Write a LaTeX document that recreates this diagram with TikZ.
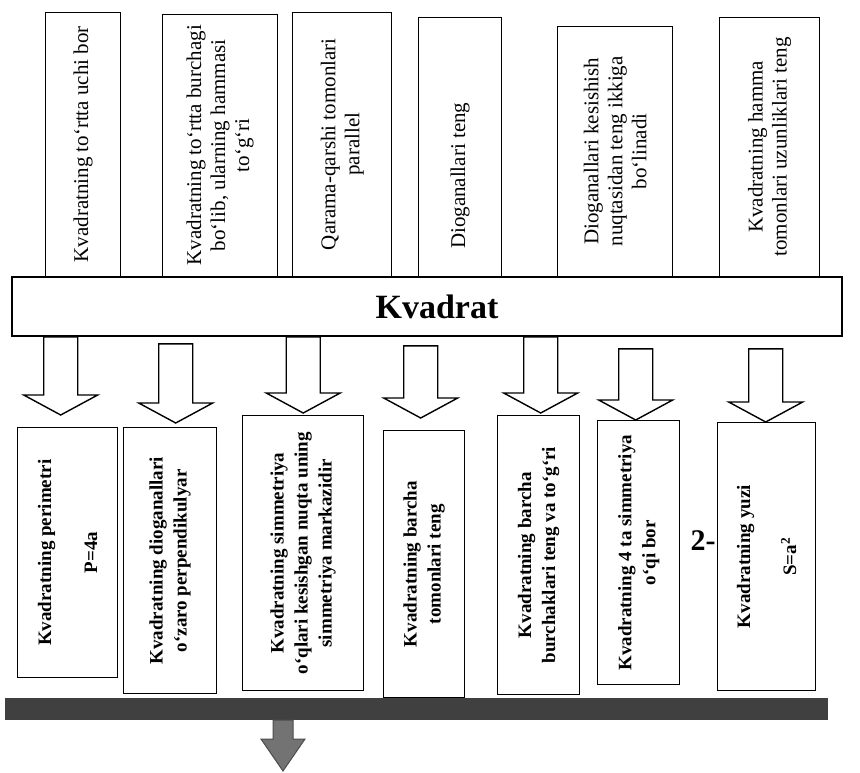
\documentclass[tikz,border=0pt]{standalone}
\usepackage{fontspec}
\setmainfont{Liberation Serif}
\usetikzlibrary{calc}
\tikzstyle{topbox}=[rectangle,
                    draw=black,
                    line width=1.4pt,
                    fill=white,
                    rotate=90,
                    anchor=north west,
                    align=center,
                    inner sep=2pt,
                    font=\fontsize{21}{24}\selectfont]
\tikzstyle{botbox}=[rectangle,
                    draw=black,
                    line width=1.4pt,
                    fill=white,
                    rotate=90,
                    anchor=north east,
                    align=center,
                    inner sep=2pt,
                    font=\bfseries\fontsize{19}{24}\selectfont]
\tikzstyle{hollowarrow}=[draw=black, line width=1.4pt, fill=white, line join=miter]
% block arrow from the bar down to a box: box, x shift, gap, drop
\newcommand{\kvarrow}[4]{%
  \draw[hollowarrow] let \p1=([xshift=#2]#1.east), \p2=(kv.south) in
    (\x1-17pt,\y2-#4) -- (\x1+17pt,\y2-#4) -- (\x1+17pt,\y1+#3+20pt)
    -- (\x1+37pt,\y1+#3+20pt) -- (\x1,\y1+#3) -- (\x1-37pt,\y1+#3+20pt)
    -- (\x1-17pt,\y1+#3+20pt) -- cycle;}
\begin{document}
\begin{tikzpicture}[x=1pt,y=-1pt]
    \path[use as bounding box, fill=white] (0,0) rectangle (860,772);

    % properties on top
    \node[topbox, minimum width=264pt, minimum height=75pt] (t1) at (45,277) {Kvadratning to‘rtta uchi bor};
    \node[topbox, minimum width=262pt, minimum height=115pt] (t2) at (162,277) {Kvadratning to‘rtta burchagi\\ bo‘lib, ularning hammasi\\ to‘g‘ri};
    \node[topbox, minimum width=264pt, minimum height=99pt] (t3) at (292,277) {Qarama-qarshi tomonlari\\ parallel};
    \node[topbox, minimum width=259pt, minimum height=83pt] (t4) at (418,277) {Dioganallari teng\hspace*{58pt}};
    \node[topbox, minimum width=250pt, minimum height=115pt] (t5) at (557,277) {Dioganallari kesishish\\ nuqtasidan teng ikkiga\\ bo‘linadi};
    \node[topbox, minimum width=259pt, minimum height=100pt] (t6) at (719,277) {Kvadratning hamma\\ tomonlari uzunliklari teng};

    \node[draw=black, line width=1.6pt, fill=white, minimum width=830pt, minimum height=59pt,
          font=\bfseries\fontsize{34}{40}\selectfont] (kv) at (427,306.5) {\hspace{20pt}Kvadrat};

    % properties below
    \node[botbox, minimum width=250pt, minimum height=100pt] (b1) at (17,427) {Kvadratning perimetri\\[22pt] P=4a};
    \node[botbox, minimum width=266pt, minimum height=93pt] (b2) at (123,427) {Kvadratning dioganallari\\ o‘zaro perpendikulyar};
    \node[botbox, minimum width=275pt, minimum height=121pt] (b3) at (242,415) {Kvadratning simmetriya\\ o‘qlari kesishgan nuqta uning\\ simmetriya markazidir};
    \node[botbox, minimum width=267pt, minimum height=81pt] (b4) at (383,430) {Kvadratning barcha\\ tomonlari teng};
    \node[botbox, minimum width=279pt, minimum height=82pt] (b5) at (497,415) {Kvadratning barcha\\ burchaklari teng va to‘g‘ri};
    \node[botbox, minimum width=264pt, minimum height=82pt] (b6) at (597,420) {Kvadratning 4 ta simmetriya\\ o‘qi bor};
    \node[botbox, minimum width=268pt, minimum height=98pt] (b7) at (717,422) {Kvadratning yuzi\\[22pt] S=a\textsuperscript{2}};
    \node[font=\bfseries\fontsize{30}{36}\selectfont] (num) at (703,541) {2-};

    \kvarrow{b1}{-7pt}{12pt}{0pt}
    \kvarrow{b2}{5.5pt}{4pt}{7pt}
    \kvarrow{b3}{0pt}{2pt}{0pt}
    \kvarrow{b4}{-3.5pt}{12pt}{9pt}
    \kvarrow{b5}{2pt}{2pt}{0pt}
    \kvarrow{b6}{-3pt}{0pt}{12pt}
    \kvarrow{b7}{-1pt}{0pt}{12pt}

    \node[fill=black!75, minimum width=823pt, minimum height=22pt, inner sep=0pt] (base) at (416.5,709) {};
    \coordinate (out) at (283,771);
    \draw[fill=black!55, draw=black!70, line width=1pt] let \p1=(out), \p2=(base.south) in
      (\x1-10pt,\y2) -- (\x1+10pt,\y2) -- (\x1+10pt,\y1+32pt) -- (\x1+22pt,\y1+32pt)
      -- (\x1,\y1) -- (\x1-22pt,\y1+32pt) -- (\x1-10pt,\y1+32pt) -- cycle;
\end{tikzpicture}
\end{document}
